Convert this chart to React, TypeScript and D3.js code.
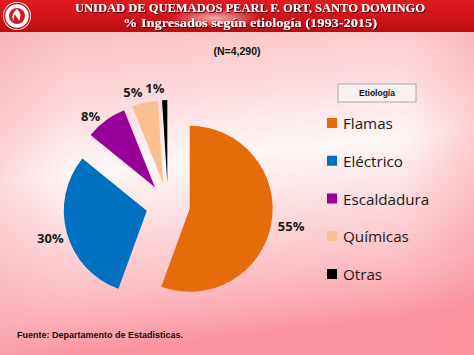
import React from "react";
import * as d3 from "d3";

const categories = ["Flamas", "Eléctrico", "Escaldadura", "Químicas", "Otras"];
const values = [55, 30, 8, 5, 1];
const colors = ["#e46c0a", "#0070c0", "#990099", "#fac090", "#000000"];
const titleLines = ["UNIDAD DE QUEMADOS PEARL F. ORT, SANTO DOMINGO", "% Ingresados según etiología (1993-2015)"];
const subtitle = "(N=4,290)";
const legendTitle = "Etiología";
const source = "Fuente: Departamento de Estadisticas.";

export default function App() {
  const W = 474, H = 355;
  const cx = 168, cy = 205, r = 83, explode = 22, labelR = 122;
  const data = categories.map((c, i) => ({ c, v: values[i], col: colors[i] }));
  const pie = d3.pie<any>().sort(null).value((d: any) => d.v);
  const arcs = pie(data);
  const arc = d3.arc<any>().innerRadius(0).outerRadius(r);
  const off = (a: any, dist: number, shift = 0) => {
    const m = (a.startAngle + a.endAngle) / 2 - shift;
    return [Math.sin(m) * dist, -Math.cos(m) * dist];
  };
  const legendY = d3.scalePoint<string>().domain(categories).range([123, 274]);

  return (
    <svg width={W} height={H} style={{ position: "absolute", left: 0, top: 0 }}>
      <defs>
        <linearGradient id="bg" x1="0" y1="0" x2="0.15" y2="1">
          <stop offset="0" stopColor="#f8b2b8" />
          <stop offset="0.33" stopColor="#fddcdf" />
          <stop offset="0.5" stopColor="#fff7f7" />
          <stop offset="0.62" stopColor="#fde4e6" />
          <stop offset="0.85" stopColor="#fcbcc1" />
          <stop offset="1" stopColor="#fb96a0" />
        </linearGradient>
        <linearGradient id="side" x1="0" y1="0" x2="1" y2="0">
          <stop offset="0" stopColor="#f7a6ad" stopOpacity="0.35" />
          <stop offset="0.15" stopColor="#f7a6ad" stopOpacity="0" />
          <stop offset="0.85" stopColor="#f88a94" stopOpacity="0" />
          <stop offset="1" stopColor="#f88a94" stopOpacity="0.35" />
        </linearGradient>
        <linearGradient id="banner" x1="0" y1="0" x2="0" y2="1">
          <stop offset="0" stopColor="#e11a20" />
          <stop offset="0.6" stopColor="#cf1218" />
          <stop offset="1" stopColor="#b80d12" />
        </linearGradient>
        <radialGradient id="glare" cx="0.5" cy="0.5" r="0.5">
          <stop offset="0" stopColor="#ffd0d0" stopOpacity="0.8" />
          <stop offset="1" stopColor="#ffd0d0" stopOpacity="0" />
        </radialGradient>
        <filter id="sh" x="-5%" y="-20%" width="110%" height="140%">
          <feDropShadow dx="1" dy="1" stdDeviation="0.4" floodColor="#300" floodOpacity="0.9" />
        </filter>
      </defs>
      <rect x={0} y={0} width={W} height={H} fill="url(#bg)" />
      <rect x={0} y={31} width={W} height={H - 31} fill="url(#side)" />
      <rect x={0} y={0} width={W} height={32} fill="url(#banner)" />
      <ellipse cx={215} cy={18} rx={45} ry={10} fill="url(#glare)" />
      <g>
        <circle cx={17} cy={16} r={14} fill="#fff" />
        <circle cx={17} cy={16} r={12.5} fill="none" stroke="#d01820" strokeWidth={1.5} />
        <circle cx={17} cy={16} r={8} fill="#d01820" />
        <path d="M17,9 C20,12 22,15 19,21 C18,18 16,17 15,14 C14,17 13,19 14,21 C11,18 12,13 17,9 Z" fill="#fff" />
      </g>
      {titleLines.map((t, i) => (
        <text key={i} x={250} y={i === 0 ? 12 : 27} textAnchor="middle"
          fontFamily="'Liberation Serif', 'Times New Roman', serif" fontWeight="bold" fontSize={13}
          fill="#fff" filter="url(#sh)"
          textLength={i === 0 ? 350 : 254} lengthAdjust="spacingAndGlyphs">{t}</text>
      ))}
      <text x={237} y={55} textAnchor="middle" fontFamily="'Liberation Sans', Arial, sans-serif"
        fontWeight="bold" fontSize={10.5} fill="#111">{subtitle}</text>
      <g>
        {arcs.map((a, i) => {
          const [dx, dy] = off(a, explode);
          return <path key={i} d={arc(a) as string} fill={a.data.col}
            transform={`translate(${cx + dx},${cy + dy})`} />;
        })}
        {arcs.map((a, i) => {
          const small = a.data.v < 10;
          const [dx, dy] = off(a, small ? 118 : labelR, small ? 0.08 : 0);
          return <text key={"l" + i} x={cx + dx + (i === 0 ? 3 : 0)} y={cy + dy} textAnchor="middle" dominantBaseline="central"
            fontFamily="'Open Sans', sans-serif" fontWeight="bold" fontSize={13} fill="#1a1a1a">{a.data.v}%</text>;
        })}
      </g>
      <rect x={338} y={84} width={78} height={18} fill="#fbf0f1" stroke="#b0a8a8" strokeWidth={1} />
      <text x={377} y={93} textAnchor="middle" dominantBaseline="central" fontFamily="'Liberation Sans', Arial, sans-serif"
        fontWeight="bold" fontSize={8.5} fill="#111">{legendTitle}</text>
      {data.map((d, i) => (
        <g key={"lg" + i} transform={`translate(327,${legendY(d.c)})`}>
          <rect x={0} y={-5} width={10} height={10} fill={d.col} />
          <text x={16} y={0} dominantBaseline="central" fontFamily="'Open Sans', sans-serif" fontSize={15.2} fill="#1a1a1a">{d.c}</text>
        </g>
      ))}
      <text x={17} y={335} dominantBaseline="central" fontFamily="'Liberation Sans', Arial, sans-serif"
        fontWeight="bold" fontSize={9} fill="#1a0a0a">{source}</text>
    </svg>
  );
}
